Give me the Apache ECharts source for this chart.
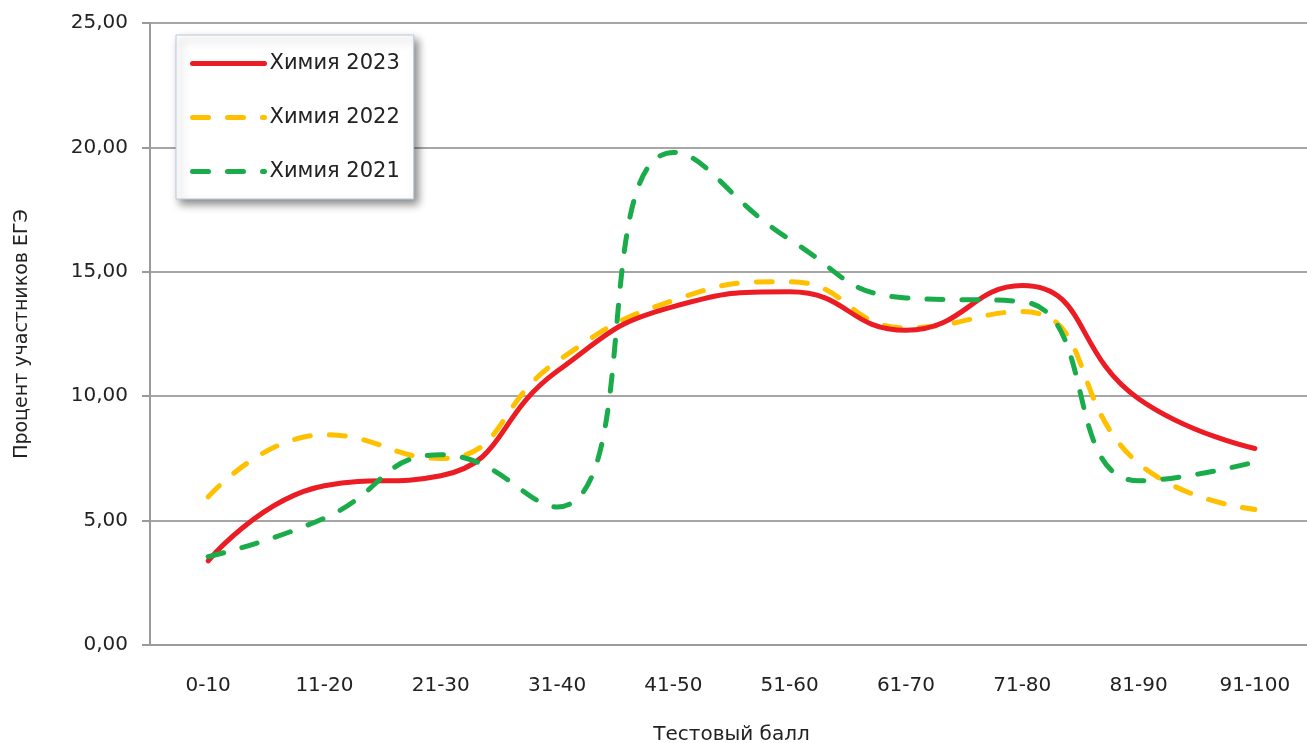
<!DOCTYPE html>
<html><head><meta charset="utf-8">
<script src="https://cdn.jsdelivr.net/npm/echarts@6/dist/echarts.min.js"></script>
<style>html,body{margin:0;padding:0;background:#fff;overflow:hidden;width:100%;height:100%}#c{position:fixed;left:0;top:0;width:1307px;height:743px}</style>
</head><body><div id="c"></div>
<script>
const categories = ['0-10','11-20','21-30','31-40','41-50','51-60','61-70','71-80','81-90','91-100'];
const chem2023 = [3.38, 6.4, 6.8, 11.0, 13.6, 14.2, 12.65, 14.45, 9.9, 7.9];
const chem2022 = [5.95, 8.45, 7.5, 11.4, 13.85, 14.6, 12.75, 13.4, 7.3, 5.45];
const chem2021 = [3.55, 5.1, 7.65, 5.55, 19.8, 16.3, 13.95, 13.8, 6.6, 7.35];
const yTicks = {min: 0, max: 25, interval: 5};
const names = ['Химия 2023', 'Химия 2022', 'Химия 2021'];

const font = 'DejaVu Sans';
const chart = echarts.init(document.getElementById('c'), null, {renderer: 'canvas', width: 1307, height: 743});
chart.setOption({
  animation: false,
  backgroundColor: '#fff',
  grid: {left: 150, top: 23, width: 1163, height: 622, containLabel: false, outerBoundsMode: 'none'},
  legend: {
    orient: 'vertical', left: 176, top: 35,
    padding: [18, 14, 17, 14], itemGap: 33, itemWidth: 72, itemHeight: 20,
    backgroundColor: '#fff', borderColor: '#b9c9de', borderWidth: 1,
    shadowColor: 'rgba(0,0,0,0.45)', shadowBlur: 8, shadowOffsetX: 4, shadowOffsetY: 5,
    textStyle: {fontFamily: font, fontSize: 21, color: '#222'},
    lineStyle: {width: 5, cap: 'round'},
    itemStyle: {opacity: 0},
    data: names
  },
  xAxis: {
    type: 'category', data: categories, boundaryGap: true,
    axisLine: {lineStyle: {color: '#9a9a9a', width: 2}},
    axisTick: {show: false},
    axisLabel: {fontFamily: font, fontSize: 20, color: '#222', margin: 31},
    name: 'Тестовый балл', nameLocation: 'middle', nameGap: 80,
    nameTextStyle: {fontFamily: font, fontSize: 20, color: '#222'}
  },
  yAxis: {
    type: 'value', min: yTicks.min, max: yTicks.max, interval: yTicks.interval,
    axisLine: {show: true, lineStyle: {color: '#9a9a9a', width: 2}},
    axisTick: {show: true, inside: false, length: 8, lineStyle: {color: '#9a9a9a', width: 2}},
    splitLine: {lineStyle: {color: '#a6a6a6', width: 2}},
    axisLabel: {fontFamily: font, fontSize: 20, color: '#222', margin: 22,
      formatter: v => v.toFixed(2).replace('.', ',')},
    name: 'Процент участников ЕГЭ', nameLocation: 'middle', nameGap: 118,
    nameTextStyle: {fontFamily: font, fontSize: 19, color: '#222'}
  },
  series: [
    {name: names[0], type: 'line', data: chem2023, smooth: 0.5, symbol: 'none', z: 3,
     itemStyle: {color: '#ec1c24'},
     lineStyle: {color: '#ec1c24', width: 5, cap: 'round'}},
    {name: names[1], type: 'line', data: chem2022, smooth: 0.5, symbol: 'none', z: 2,
     itemStyle: {color: '#ffc000'},
     lineStyle: {color: '#ffc000', width: 5, type: [16, 19], cap: 'round'}},
    {name: names[2], type: 'line', data: chem2021, smooth: 0.5, symbol: 'none', z: 4,
     itemStyle: {color: '#1aab4b'},
     lineStyle: {color: '#1aab4b', width: 5, type: [16, 19], cap: 'round'}}
  ]
});
</script></body></html>
